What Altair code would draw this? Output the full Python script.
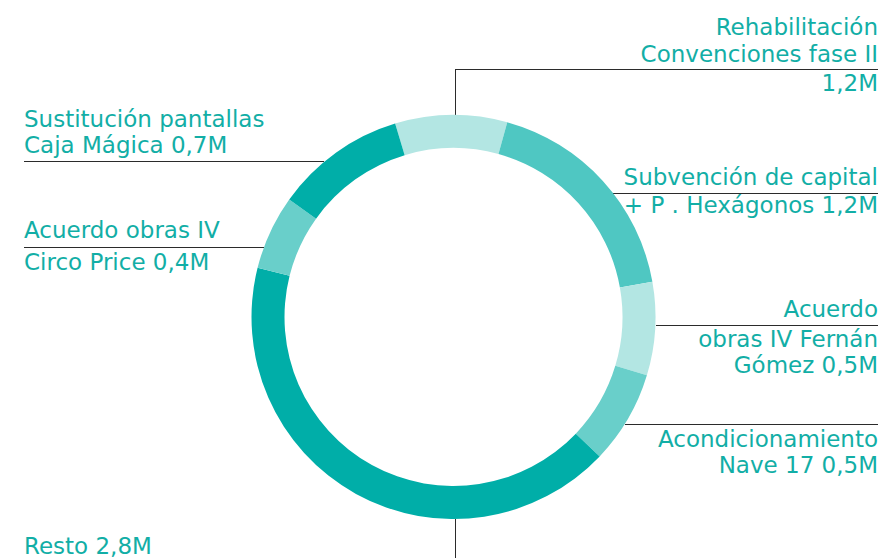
import math
import altair as alt
import pandas as pd

# ---- data ----
segments = [
    "Rehabilitación Convenciones fase II",
    "Subvención de capital + P. Hexágonos",
    "Acuerdo obras IV Fernán Gómez",
    "Acondicionamiento Nave 17",
    "Resto",
    "Acuerdo obras IV Circo Price",
    "Sustitución pantallas Caja Mágica",
]
# arc sizes as drawn in the picture (millions)
values = [0.6, 1.2, 0.5, 0.5, 2.8, 0.4, 0.7]
colors = ["#b3e6e3", "#4fc7c2", "#b3e6e3", "#69cfca", "#00aea8", "#69cfca", "#00aea8"]

# label text lines
right_lines = [
    "Rehabilitación", "Convenciones fase II", "1,2M",
    "Subvención de capital", "+ P . Hexágonos 1,2M",
    "Acuerdo", "obras IV Fernán", "Gómez 0,5M",
    "Acondicionamiento", "Nave 17 0,5M",
]
left_lines = [
    "Sustitución pantallas", "Caja Mágica 0,7M",
    "Acuerdo obras IV", "Circo Price 0,4M",
    "Resto 2,8M",
]

# ---- layout (screen pixels) ----
W, H = 871, 570
CX, CY = 453.5, 317
R_OUT, R_IN = 202, 169
START = 2 * math.pi - math.radians(16.8)
right_x = 878
right_y = [35, 62, 91, 185, 213, 317, 347, 373, 447, 473]
left_x = 24
left_y = [127, 153, 238, 270, 554]
leaders = [
    (455, 69.5, 878, 69.5), (455.5, 69, 455.5, 115),
    (612, 193.5, 878, 193.5),
    (656, 325.5, 878, 325.5),
    (625, 424.5, 878, 424.5),
    (24, 161.5, 324, 161.5),
    (24, 247.5, 264, 247.5),
    (455.5, 519, 455.5, 600),
]

xs = alt.Scale(domain=[8, 8 + W], range=[0, W], nice=False, zero=False)
ys = alt.Scale(domain=[8, 8 + H], range=[0, H], nice=False, zero=False)

seg_df = pd.DataFrame({"seg": segments, "value": values, "idx": range(len(segments))})
arcs = alt.Chart(seg_df).mark_arc(radius=R_OUT, radius2=R_IN).encode(
    x=alt.X(datum=CX, type="quantitative", scale=xs, axis=None),
    y=alt.Y(datum=CY, type="quantitative", scale=ys, axis=None),
    theta=alt.Theta("value:Q", stack=True, scale=alt.Scale(range=[START, START + 2 * math.pi])),
    color=alt.Color("seg:N", scale=alt.Scale(domain=segments, range=colors), legend=None),
    order=alt.Order("idx:Q"),
)

rule_df = pd.DataFrame(leaders, columns=["x1", "y1", "x2", "y2"])
rules = alt.Chart(rule_df).mark_rule(color="#2b2b2b", strokeWidth=1).encode(
    x=alt.X("x1:Q", scale=xs, axis=None),
    y=alt.Y("y1:Q", scale=ys, axis=None),
    x2="x2:Q",
    y2="y2:Q",
)

rt_df = pd.DataFrame({"t": right_lines, "x": [right_x] * len(right_lines), "y": right_y})
lt_df = pd.DataFrame({"t": left_lines, "x": [left_x] * len(left_lines), "y": left_y})

font = "DejaVu Sans"
txt_color = "#12aea6"
rtext = alt.Chart(rt_df).mark_text(align="right", baseline="alphabetic", font=font,
                                   fontSize=23, color=txt_color).encode(
    x=alt.X("x:Q", scale=xs, axis=None),
    y=alt.Y("y:Q", scale=ys, axis=None),
    text="t:N",
)
ltext = alt.Chart(lt_df).mark_text(align="left", baseline="alphabetic", font=font,
                                   fontSize=23, color=txt_color).encode(
    x=alt.X("x:Q", scale=xs, axis=None),
    y=alt.Y("y:Q", scale=ys, axis=None),
    text="t:N",
)

chart = alt.layer(rules, arcs, rtext, ltext).properties(
    width=W, height=H, padding=0,
    autosize=alt.AutoSizeParams(type="none"),
).configure_view(stroke=None)

chart.save("out.html", embed_options={"renderer": "svg", "actions": False})
